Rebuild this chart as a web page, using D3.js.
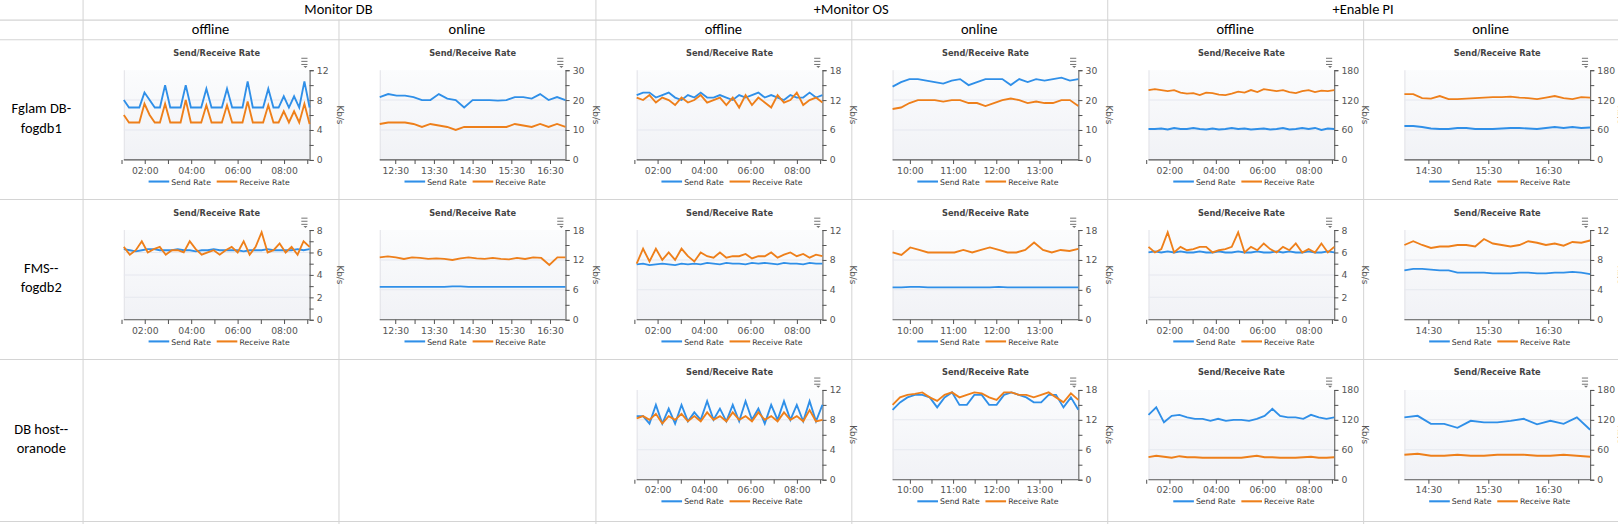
<!DOCTYPE html>
<html><head><meta charset="utf-8">
<script src="https://cdn.jsdelivr.net/npm/d3@7"></script>
<style>body{margin:0;background:#fff}svg{display:block}</style>
</head><body><div id="sheet"></div>
<script>
// column / row headers
const groups = ['Monitor DB', '+Monitor OS', '+Enable PI'];
const modes = ['offline', 'online'];
const rowLabels = [['Fglam DB-', 'fogdb1'], ['FMS--', 'fogdb2'], ['DB host--', 'oranode']];

// x tick labels per time window
const ticksNight = [1, 2, 3, 4, 5, 6, 7, 8, 9];
const labelsNight = ['02:00', '04:00', '06:00', '08:00'];
const ticksAfternoon = [12.5, 13, 13.5, 14, 14.5, 15, 15.5, 16, 16.5];
const labelsAfternoon = ['12:30', '13:30', '14:30', '15:30', '16:30'];
const ticksMorning = [10, 10.5, 11, 11.5, 12, 12.5, 13, 13.5];
const labelsMorning = ['10:00', '11:00', '12:00', '13:00'];
const ticksLate = [14.5, 15, 15.5, 16, 16.5, 17];
const labelsLate = ['14:30', '15:30', '16:30'];

// series values (Kb/s)
const s1 = [8,7,7,7,9,8,7,7,10,7,7,7,10,7,7,7,9.5,7,7,7,9.5,7,7,7,10.5,7,7,7,9.5,7,7,8.5,7,8.5,7,10.5,7];
const r1 = [6,5,5,5,7.5,6,5,5,7.5,5,5,5,8,5,5,5,7.3,5,5,5,7.3,5,5,5,7.8,5,5,5,7.3,5,5,6.5,5,6.5,5,7.5,4.8];
const s2 = [21,22,21.5,21.5,21,20,20,22,20.5,20,17.5,20,20,20,19.8,20,21,21,20.5,22,20,21,20];
const r2 = [12,12.5,12.5,12.5,12,11,12,11.5,11,10,11,11,11,11,11,11,12,11.5,11,12,11,12,11];
const s3 = [13,13.5,13.5,12.5,13,13.5,12.5,12,13,12.5,13.5,12.5,12.5,13,12.5,12,13,12.5,13,13.5,12.5,13,12.5,12,13,12.5,12.5,13.5,12.5,13];
const r3 = [12.5,12,13,11.5,12.5,12,11,12.5,11.5,12,13,11.5,12,12.5,11,12.5,10.5,13,11,12.5,11.5,10.5,13,11.5,12,13.5,11,12,12.5,11.5];
const s4 = [24.5,26,27,27,26.5,26,25.5,26.5,27,25,26,27,27,27,25,27,26,27,26.5,27,27.5,26.5,27];
const r4 = [17,17.5,19,20,20,20,19.5,20,20,19,19,18,19,20,20.5,20,19,19.5,19,19,20,20,18];
const s5 = [62,62,63,61,64,62,62,64,62,61,63,61,62,64,62,63,61,62,63,61,62,64,61,62,64,62,64,60,63,62];
const r5 = [140,142,140,138,140,135,133,134,130,135,134,131,130,133,137,135,140,136,142,140,138,140,136,134,138,140,136,139,138,140];
const s6 = [68,68,66,63,62,62,64,64,62,62,62,63,64,64,63,62,64,66,64,66,64,65];
const r6 = [132,132,124,123,128,122,122,123,124,125,126,126,127,125,124,122,125,128,124,122,126,125];
const s7 = [6.3,6.2,6.1,6.2,6.3,6.3,6.2,6.2,6.2,6.3,6.2,6.2,6.1,6.2,6.2,6.3,6.2,6.2,6.2,6.2,6.1,6.2,6.2,6.2,6.3,6.2,6.2,6.2,6.2,6.3,6.2,6.3];
const r7 = [6.5,5.8,6.2,7,6,6.3,6.5,5.8,6.2,6.2,6,7,6.3,5.8,6,6.2,5.8,6.2,6.5,6,7,5.8,6.5,7.8,6,6.2,6.8,6,6.5,5.8,7,6.5];
const s8 = [6.6,6.6,6.6,6.6,6.6,6.6,6.6,6.6,6.6,6.7,6.7,6.6,6.6,6.6,6.6,6.6,6.6,6.6,6.6,6.6,6.6,6.6,6.6,6.6];
const r8 = [12.5,12.7,12.5,12.2,12.5,12.4,12.2,12.3,12.2,12,12.3,12.5,12.3,12.2,12.4,12.2,12.1,12.4,12.2,12.5,12.4,11,12.5,12.5];
const s9 = [7.4,7.5,7.3,7.4,7.5,7.4,7.3,7.5,7.4,7.5,7.4,7.6,7.5,7.4,7.6,7.5,7.5,7.4,7.6,7.5,7.6,7.5,7.4,7.6,7.5,7.5,7.4,7.6,7.5,7.5];
const r9 = [7.5,9.5,7.8,9.5,8,9,8,9.5,8.5,7.8,9,8.5,8.3,9,8.3,8.5,8.5,8.8,8.2,8.5,8.5,9,8.3,8.7,9,8.5,8.8,8.3,8.7,8.5];
const s10 = [6.5,6.5,6.6,6.6,6.5,6.5,6.5,6.5,6.5,6.5,6.5,6.5,6.6,6.5,6.5,6.5,6.5,6.5,6.5,6.5,6.5,6.5];
const r10 = [13.5,13,14.5,14,13.5,13.5,13.5,13.5,14,13.5,14,14.5,14,13.5,13.5,14,15.5,14,13.5,14,13.8,14.2];
const s11 = [6,6.1,6,6.1,6,6.1,6,6,6.1,6,6,6.1,6,6,6.1,6,6,6.1,6,6,6.1,6,6.1,6,6,6.1,6,6,6.1,6];
const r11 = [6.5,6,6.3,7.8,6,6.5,6.2,6.3,6.5,6.5,6,6.2,6.3,6.5,7.8,6,6.5,6.2,6.8,6.3,6,6.5,6.2,6.8,6,6.3,6,6.8,6,6.5];
const s12 = [6.6,6.8,6.8,6.7,6.6,6.6,6.3,6.3,6.3,6.3,6.2,6.2,6.2,6.3,6.3,6.2,6.2,6.3,6.3,6.4,6.3,6.1];
const r12 = [10,10.5,10,9.6,9.8,9.8,10,10,9.8,10.8,10.2,10,9.8,10,10.5,10.3,10,10.2,9.9,10.4,10.3,10.6];
const s13 = [8.5,8.5,7.5,10,7.5,9.5,7.5,10,7.8,9,8,10.5,8,9.5,7.8,10,7.8,10.5,8,9.5,7.5,10,8,10.5,8,10,7.8,10.5,7.8,10];
const r13 = [8.2,8.5,8,8.8,7.5,8.5,8,8.8,7.8,8.5,7.8,9,8,8.5,7.8,9,8,8.5,7.8,9,8,8.5,7.8,9,8,8.5,7.8,9.3,7.8,8];
const s14 = [14,15.5,16.5,17,17,16.5,14.5,16.5,17.5,15,15,17,17,15,15,17,17.5,17,16.5,15.5,15.5,17,17,14.5,16.5,14];
const r14 = [15,16.5,17,17.2,17.5,16.5,15.8,17,17.5,16.5,17,17.5,17.3,16.5,16,17.5,17.5,17,17,16.5,17,17.5,16.5,15.5,17.3,16];
const s15 = [130,145,115,128,130,125,122,122,118,122,118,120,120,118,122,128,142,128,125,125,122,130,125,122,125];
const r15 = [45,48,46,44,47,45,45,44,44,44,44,44,44,46,48,45,45,44,44,44,45,46,44,44,45];
const s16 = [125,128,112,112,104,118,115,115,118,122,111,118,112,125,100];
const r16 = [50,52,48,48,50,48,48,50,50,50,48,48,50,48,46];

// one entry per chart cell
const charts = [
  {row:0,col:0,max:12,step:4,x:[1.1,9.1],ticks:ticksNight,labels:labelsNight,lv:[2,4,6,8],send:s1,recv:r1},
  {row:0,col:1,max:30,step:10,x:[12.1,16.9],ticks:ticksAfternoon,labels:labelsAfternoon,lv:[12.5,13.5,14.5,15.5,16.5],send:s2,recv:r2},
  {row:0,col:2,max:18,step:6,x:[1.1,9.1],ticks:ticksNight,labels:labelsNight,lv:[2,4,6,8],send:s3,recv:r3},
  {row:0,col:3,max:30,step:10,x:[9.6,13.9],ticks:ticksMorning,labels:labelsMorning,lv:[10,11,12,13],send:s4,recv:r4},
  {row:0,col:4,max:180,step:60,x:[1.1,9.1],ticks:ticksNight,labels:labelsNight,lv:[2,4,6,8],send:s5,recv:r5},
  {row:0,col:5,max:180,step:60,x:[14.1,17.2],ticks:ticksLate,labels:labelsLate,lv:[14.5,15.5,16.5],send:s6,recv:r6},
  {row:1,col:0,max:8,step:2,x:[1.1,9.1],ticks:ticksNight,labels:labelsNight,lv:[2,4,6,8],send:s7,recv:r7},
  {row:1,col:1,max:18,step:6,x:[12.1,16.9],ticks:ticksAfternoon,labels:labelsAfternoon,lv:[12.5,13.5,14.5,15.5,16.5],send:s8,recv:r8},
  {row:1,col:2,max:12,step:4,x:[1.1,9.1],ticks:ticksNight,labels:labelsNight,lv:[2,4,6,8],send:s9,recv:r9},
  {row:1,col:3,max:18,step:6,x:[9.6,13.9],ticks:ticksMorning,labels:labelsMorning,lv:[10,11,12,13],send:s10,recv:r10},
  {row:1,col:4,max:8,step:2,x:[1.1,9.1],ticks:ticksNight,labels:labelsNight,lv:[2,4,6,8],send:s11,recv:r11},
  {row:1,col:5,max:12,step:4,x:[14.1,17.2],ticks:ticksLate,labels:labelsLate,lv:[14.5,15.5,16.5],send:s12,recv:r12},
  {row:2,col:2,max:12,step:4,x:[1.1,9.1],ticks:ticksNight,labels:labelsNight,lv:[2,4,6,8],send:s13,recv:r13},
  {row:2,col:3,max:18,step:6,x:[9.6,13.9],ticks:ticksMorning,labels:labelsMorning,lv:[10,11,12,13],send:s14,recv:r14},
  {row:2,col:4,max:180,step:60,x:[1.1,9.1],ticks:ticksNight,labels:labelsNight,lv:[2,4,6,8],send:s15,recv:r15},
  {row:2,col:5,max:180,step:60,x:[14.1,17.2],ticks:ticksLate,labels:labelsLate,lv:[14.5,15.5,16.5],send:s16,recv:r16}
];

// sheet is laid out in a 1568x508 frame and stretched to the window
const W = 1568, H = 508;
const colX = [0, 80, 328, 577, 825, 1073, 1321, 1568];
const rowY = [0, 19, 38, 193, 348, 505];
const grid = '#d4d4d4', blue = '#2f8fe8', orange = '#ee7f1a';
const xlsFont = 'Carlito, Calibri, "Liberation Sans", sans-serif';
const chFont = 'Tahoma, "DejaVu Sans", sans-serif';

const svg = d3.select('#sheet').append('svg').attr('width', 1618).attr('height', 524)
  .attr('viewBox', `0 0 ${W} ${H}`).attr('preserveAspectRatio', 'none')
  .style('font-family', xlsFont);

// sheet grid
const g0 = svg.append('g').attr('stroke', grid);
rowY.slice(1).forEach(y => g0.append('line').attr('x1', 0).attr('x2', colX[7]).attr('y1', y + .5).attr('y2', y + .5));
colX.slice(1).forEach((x, i) => {
  const top = (i % 2 === 1 && i < 6) ? 19 : 0;
  g0.append('line').attr('x1', x + .5).attr('x2', x + .5).attr('y1', top).attr('y2', H);
});
groups.forEach((t, i) => svg.append('text').attr('x', colX[2 * i + 2]).attr('y', 14)
  .attr('text-anchor', 'middle').attr('font-size', 14).text(t));
for (let c = 0; c < 6; c++) svg.append('text').attr('x', (colX[c + 1] + colX[c + 2]) / 2).attr('y', 33)
  .attr('text-anchor', 'middle').attr('font-size', 14).text(modes[c % 2]);
rowLabels.forEach((l, r) => {
  const cy = (rowY[r + 2] + rowY[r + 3]) / 2;
  l.forEach((t, k) => svg.append('text').attr('x', 40).attr('y', cy - 6 + k * 19)
    .attr('text-anchor', 'middle').attr('font-size', 14).text(t));
});

const defs = svg.append('defs');
const gr = defs.append('linearGradient').attr('id', 'bg').attr('x1', 0).attr('y1', 0).attr('x2', 0).attr('y2', 1);
gr.append('stop').attr('offset', 0).attr('stop-color', '#fbfcfd');
gr.append('stop').attr('offset', 1).attr('stop-color', '#f1f2f6');

charts.forEach(c => {
  const cx = colX[c.col + 1], cy = rowY[c.row + 2];
  const pl = cx + 40, pr = cx + 220, pt = cy + 30, pb = cy + 117;
  const g = svg.append('g').style('font-family', chFont);
  const x = d3.scaleLinear().domain(c.x).range([pl, pr]);
  const y = d3.scaleLinear().domain([0, c.max]).range([pb, pt]);

  g.append('rect').attr('x', pl).attr('y', pt).attr('width', pr - pl).attr('height', pb - pt).attr('fill', 'url(#bg)');
  g.append('line').attr('x1', pl + .5).attr('x2', pl + .5).attr('y1', pt).attr('y2', pb).attr('stroke', '#e3e3e8');
  d3.range(c.step, c.max, c.step).forEach(v => g.append('line').attr('x1', pl).attr('x2', pr)
    .attr('y1', y(v)).attr('y2', y(v)).attr('stroke', '#e6e8ef'));

  g.append('text').attr('x', (pl + pr) / 2).attr('y', cy + 16).attr('text-anchor', 'middle')
    .attr('font-size', 8).attr('font-weight', 'bold').attr('fill', '#444').text('Send/Receive Rate');
  // menu icon
  const mi = g.append('g').attr('stroke', '#777').attr('stroke-width', 1);
  [0, 3, 6].forEach(o => mi.append('line').attr('x1', pr - 8).attr('x2', pr - 2).attr('y1', cy + 18 + o + .5).attr('y2', cy + 18 + o + .5));
  g.append('path').attr('d', `M${pr - 6},${cy + 26} l2,2 l2,-2 z`).attr('fill', '#777');

  // axes
  const ya = d3.axisRight(y).tickValues(d3.range(0, c.max + 0.001, c.step / 2)).tickSize(4)
    .tickFormat(v => (Math.abs(v / c.step - Math.round(v / c.step)) < 1e-6) ? v : '');
  g.append('g').attr('transform', `translate(${pr},0)`).call(ya)
    .call(a => a.select('.domain').attr('stroke', '#555'))
    .call(a => a.selectAll('line').attr('stroke', '#555'))
    .call(a => a.selectAll('text').attr('font-size', 9).attr('fill', '#555').attr('font-family', chFont));
  g.append('text').attr('transform', `translate(${pr + 27},${(pt + pb) / 2}) rotate(90)`)
    .attr('text-anchor', 'middle').attr('font-size', 8.5).attr('fill', '#555').text('Kb/s');
  const xa = d3.axisBottom(x).tickValues(c.ticks).tickSize(4)
    .tickFormat(v => { const i = c.lv.indexOf(v); return i >= 0 ? c.labels[i] : ''; });
  g.append('g').attr('transform', `translate(0,${pb})`).call(xa)
    .call(a => a.select('.domain').attr('stroke', '#555').attr('d', `M${pl},0H${pr}`))
    .call(a => a.selectAll('line').attr('stroke', '#555'))
    .call(a => a.selectAll('text').attr('font-size', 9).attr('fill', '#555').attr('font-family', chFont));

  // series
  [[c.send, blue], [c.recv, orange]].forEach(([vals, col]) => {
    const step = (c.x[1] - c.x[0]) / (vals.length - 1);
    g.append('path').datum(vals).attr('fill', 'none').attr('stroke', col).attr('stroke-width', 1.8)
      .attr('d', d3.line().x((d, i) => x(c.x[0] + i * step)).y(d => y(d)));
  });

  // legend
  const lx = (pl + pr) / 2 - 66, ly = cy + 141;
  [['Send Rate', blue, 0], ['Receive Rate', orange, 66]].forEach(([t, col, o]) => {
    g.append('line').attr('x1', lx + o).attr('x2', lx + o + 20).attr('y1', ly - 3).attr('y2', ly - 3)
      .attr('stroke', col).attr('stroke-width', 2);
    g.append('text').attr('x', lx + o + 22).attr('y', ly).attr('font-size', 7.5).attr('fill', '#333').text(t);
  });
});
</script></body></html>
